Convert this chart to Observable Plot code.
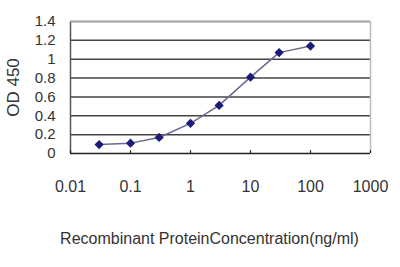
<!DOCTYPE html>
<html><head><meta charset="utf-8">
<script src="https://cdn.jsdelivr.net/npm/d3@7"></script>
<script src="https://cdn.jsdelivr.net/npm/@observablehq/plot@0.6"></script>
<style>body{margin:0;background:#fff;} svg{display:block;}</style>
</head><body><div id="chart"></div>
<script>
const concentrations = [0.03, 0.1, 0.3, 1, 3, 10, 30, 100];
const odValues = [0.095, 0.11, 0.17, 0.32, 0.51, 0.81, 1.07, 1.14];
const xTicks = [0.01, 0.1, 1, 10, 100, 1000];
const yTicks = [0, 0.2, 0.4, 0.6, 0.8, 1, 1.2, 1.4];
const xTitle = "Recombinant ProteinConcentration(ng/ml)";
const yTitle = "OD 450";

const data = concentrations.map((c, i) => ({c, od: odValues[i]}));
const font = "Liberation Sans, Arial, sans-serif";

const chart = Plot.plot({
  width: 400, height: 267,
  marginLeft: 70, marginRight: 30, marginTop: 21, marginBottom: 114,
  style: {fontFamily: font, background: "#fff"},
  x: {type: "log", domain: [0.01, 1000]},
  y: {domain: [0, 1.4]},
  marks: [
    Plot.ruleY(yTicks.slice(1), {stroke: "#444", strokeWidth: 1.5}),
    Plot.ruleX([0.01], {stroke: "#555", strokeWidth: 1.5}),
    Plot.ruleX([1000], {stroke: "#bbb", strokeWidth: 1.5}),
    Plot.ruleY([1.4], {stroke: "#aaa", strokeWidth: 1.5}),
    Plot.ruleY([0], {stroke: "#222", strokeWidth: 1.5}),
    Plot.ruleX(xTicks, {x: d => d, y1: 0, y2: 0.03, stroke: "#222", strokeWidth: 1.2}),
    Plot.axisY(yTicks, {tickSize: 0, tickPadding: 15, fontSize: 15, fill: "#333", label: null,
      tickFormat: d => String(d)}),
    Plot.axisY({ticks: [], tickSize: 0, label: yTitle, labelAnchor: "center", labelArrow: "none",
      labelOffset: 64, fontSize: 17, fill: "#333"}),
    Plot.axisX(xTicks, {tickSize: 0, tickPadding: 27, fontSize: 16, fill: "#333", label: null,
      tickFormat: d => String(d)}),
    Plot.line(data, {x: "c", y: "od", stroke: "#6a6a90", strokeWidth: 1.5}),
    Plot.dot(data, {x: "c", y: "od", symbol: "diamond2", r: 3.2, fill: "#1c1c78", stroke: "#1c1c78"}),
    Plot.text([xTitle], {frameAnchor: "bottom", dy: 90, dx: -11, fontSize: 16, fill: "#333", text: d => d})
  ]
});
document.getElementById("chart").appendChild(chart);
</script></body></html>
